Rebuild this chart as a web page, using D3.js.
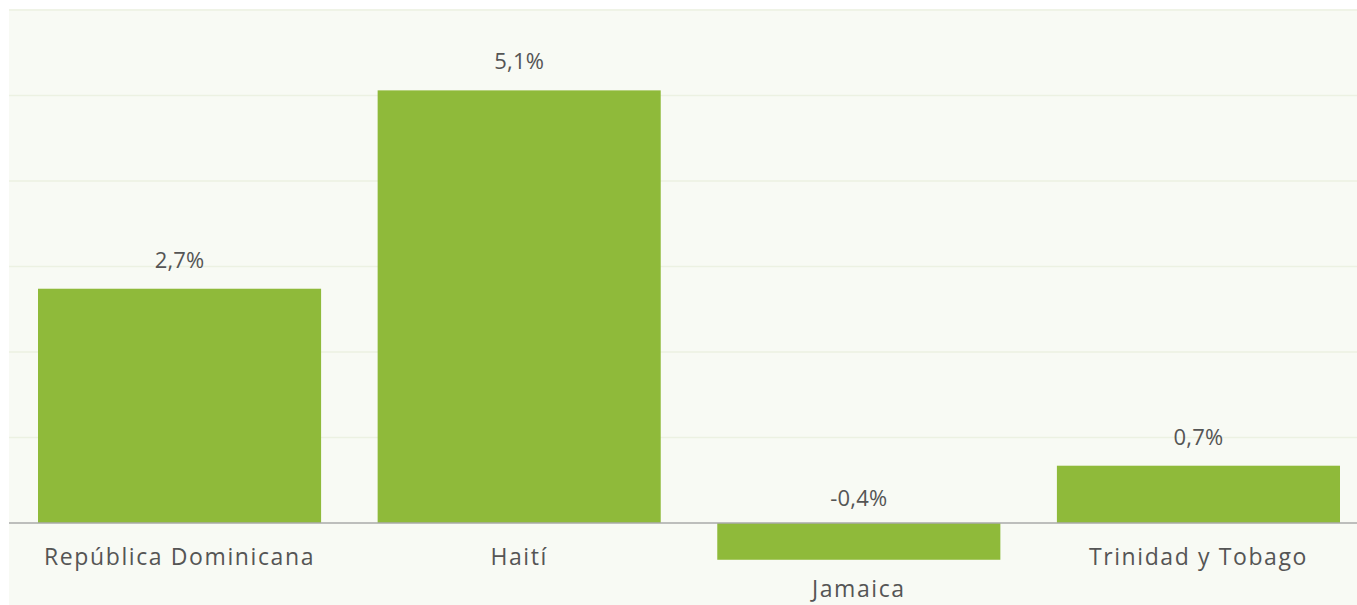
<!DOCTYPE html>
<html>
<head>
<meta charset="utf-8">
<script src="https://cdn.jsdelivr.net/npm/d3@7"></script>
<style>
  body { margin: 0; background: #ffffff; }
  text { font-family: "Open Sans", sans-serif; fill: #555555; }
  .valueLabel { letter-spacing: 0.2px; }
  .catLabel { letter-spacing: 1.6px; }
</style>
</head>
<body>
<div id="chart"></div>
<script>
var svgWidth = 1357;
var svgHeight = 605;

// data
var categories = ["República Dominicana", "Haití", "Jamaica", "Trinidad y Tobago"];
var values = [2.74, 5.06, -0.43, 0.67];
var gridTicks = [0, 1, 2, 3, 4, 5, 6];

var svg = d3.select("#chart")
    .append("svg")
    .attr("width", svgWidth)
    .attr("height", svgHeight);

// plot background
svg.append("rect")
    .attr("x", 9)
    .attr("y", 9)
    .attr("width", svgWidth - 9)
    .attr("height", svgHeight - 9)
    .attr("fill", "#f8faf4");

var xScale = d3.scaleBand()
    .domain(categories)
    .range([9.75, 1368.25])
    .paddingInner(0.1665)
    .paddingOuter(0.0832);

var yScale = d3.scaleLinear()
    .domain([0, 6])
    .range([523, 10]);

// gridlines
svg.append("g").selectAll("line")
    .data(gridTicks.filter(d => d !== 0))
    .enter()
    .append("line")
    .attr("x1", 9)
    .attr("x2", svgWidth)
    .attr("y1", d => yScale(d))
    .attr("y2", d => yScale(d))
    .attr("stroke", "#ecf1e2")
    .attr("stroke-width", 1.5);

var fmt = d => d3.format(".1f")(d).replace(".", ",").replace("\u2212", "-") + "%";

// bars
svg.append("g").selectAll("rect")
    .data(values)
    .enter()
    .append("rect")
    .attr("x", (d, i) => xScale(categories[i]))
    .attr("width", xScale.bandwidth())
    .attr("y", d => yScale(Math.max(0, d)))
    .attr("height", d => Math.abs(yScale(d) - yScale(0)))
    .attr("fill", "#8fba3a");

// zero line
svg.append("line")
    .attr("x1", 9)
    .attr("x2", svgWidth)
    .attr("y1", yScale(0))
    .attr("y2", yScale(0))
    .attr("stroke", "#aaaaaa")
    .attr("stroke-width", 1.5);

// value labels
svg.append("g").selectAll("text")
    .data(values)
    .enter()
    .append("text")
    .attr("class", "valueLabel")
    .attr("x", (d, i) => xScale(categories[i]) + xScale.bandwidth() / 2)
    .attr("y", d => d >= 0 ? yScale(d) - 21 : yScale(0) - 17)
    .attr("text-anchor", "middle")
    .attr("font-size", "22px")
    .text(d => fmt(d));

// category labels
svg.append("g").selectAll("text")
    .data(values)
    .enter()
    .append("text")
    .attr("class", "catLabel")
    .attr("x", (d, i) => xScale(categories[i]) + xScale.bandwidth() / 2)
    .attr("y", d => d >= 0 ? yScale(0) + 42 : yScale(d) + 37)
    .attr("text-anchor", "middle")
    .attr("font-size", "23px")
    .text((d, i) => categories[i]);
</script>
</body>
</html>
